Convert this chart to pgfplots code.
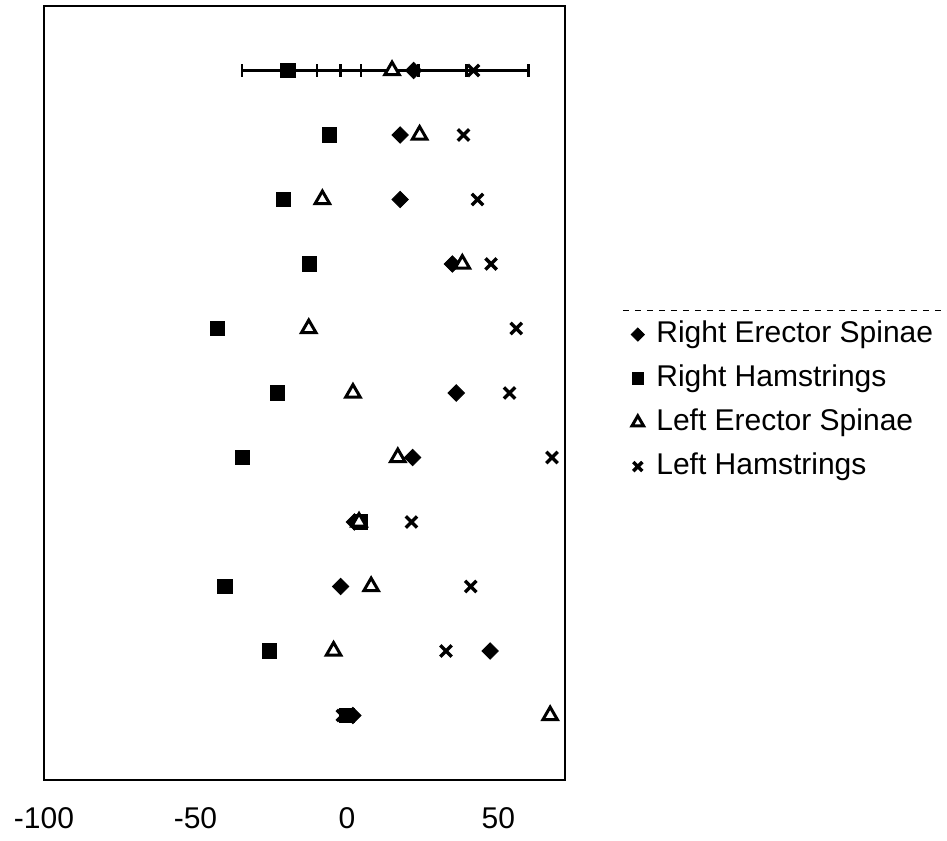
\documentclass[border=0pt]{standalone}
\usepackage{pgfplots}
\pgfplotsset{compat=1.18}
\usepackage{fontspec}
\setmainfont{Liberation Sans}

\pgfplotsset{
  res/.style={only marks, mark=square*, mark size=2.9pt, mark options={rotate=45, fill=black, draw=black}},
  rh/.style={only marks, mark=square*, mark size=3.6pt, mark options={fill=black, draw=black}},
  les/.style={only marks, mark=triangle*, mark size=4.2pt, mark options={fill=white, draw=black, line width=1.5pt}},
  lh/.style={only marks, mark=x, mark size=4pt, mark options={draw=black, line width=1.7pt}},
  ebar/.style={error bars/.cd, x dir=both, x explicit,
    error mark=|,
    error bar style={line width=1.3pt, black},
    error mark options={line width=1.2pt, mark size=3.2pt, black}},
}

\begin{document}
\begin{tikzpicture}[font=\fontsize{15}{17}\selectfont]
\begin{axis}[
  scale only axis,
  width=260.5pt, height=387pt,
  xmin=-100, xmax=72, ymin=0, ymax=12,
  xtick={-100,-50,0,50},
  xticklabels={-100,-50,0,50},
  ytick=\empty,
  major tick length=0pt,
  xticklabel style={yshift=-10pt},
  axis line style={line width=1pt},
  clip=false,
  legend cell align=left,
  legend image code/.code={\draw[mark repeat=2, mark phase=2, every mark/.append style={scale=0.8}]
    plot coordinates {(0cm,0cm) (0.25cm,0cm) (0.5cm,0cm)};},
  legend style={at={(1.111,0.607)}, anchor=north west, draw=none, fill=none,
    inner xsep=4pt, inner ysep=4pt, row sep=6pt, column sep=5pt,
    nodes={inner sep=1pt, text height=11pt, text depth=3pt}},
]
% rows counted from the bottom (1) to the top (11)
\addplot[res] coordinates {
  (17.6,10) (17.6,9) (34.8,8) (36.1,6) (21.7,5) (2.5,4) (-2.1,3) (47.3,2) (2.0,1)
};
\addlegendentry{Right Erector Spinae}
\addplot[rh] coordinates {
  (-5.7,10) (-20.9,9) (-12.4,8) (-42.8,7) (-23.0,6) (-34.6,5) (4.5,4) (-40.3,3) (-25.5,2) (0.0,1)
};
\addlegendentry{Right Hamstrings}
\addplot[les] coordinates {
  (24.0,10) (-8.1,9) (38.1,8) (-12.6,7) (2.0,6) (16.8,5) (4.0,4) (8.0,3) (-4.4,2) (67.1,1)
};
\addlegendentry{Left Erector Spinae}
\addplot[lh] coordinates {
  (38.5,10) (43.1,9) (47.6,8) (55.9,7) (53.7,6) (67.7,5) (21.3,4) (40.9,3) (32.7,2) (-1.5,1)
};
\addlegendentry{Left Hamstrings}

% top row with error bars
\addplot[res, forget plot, ebar] coordinates {(22.0,11) += (17.3,0) -= (17.3,0)};
\addplot[rh, forget plot, ebar] coordinates {(-19.5,11) += (17.4,0) -= (15.1,0)};
\addplot[les, forget plot, ebar] coordinates {(14.9,11) += (24.7,0) -= (24.7,0)};
\addplot[lh, forget plot, ebar] coordinates {(41.8,11) += (18.1,0) -= (18.1,0)};

\coordinate (bl) at (rel axis cs:0,0);
\coordinate (lg) at (rel axis cs:1.111,0.607);
\end{axis}
\draw[dashed, line width=0.6pt] (lg) -- ++(162pt,0);
\pgfresetboundingbox
\path[use as bounding box] ([shift={(-22pt,-30pt)}]bl) rectangle +(473.5pt,420pt);
\end{tikzpicture}
\end{document}
